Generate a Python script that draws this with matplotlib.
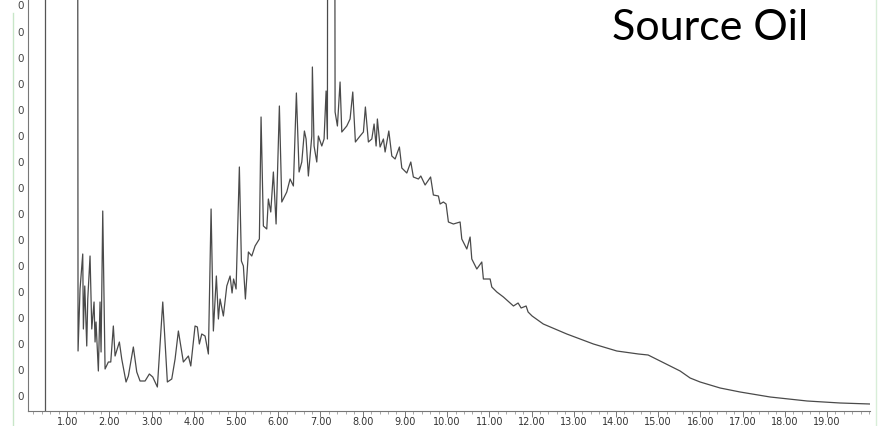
import numpy as np
import matplotlib
matplotlib.use('Agg')
import matplotlib.pyplot as plt
from matplotlib.ticker import MultipleLocator, FixedLocator


# retention time (min) and abundance
rt = [1.22, 1.256, 1.303, 1.367, 1.382, 1.415, 1.462, 1.486, 1.540, 1.581,
      1.635, 1.659, 1.682, 1.737, 1.777, 1.801, 1.841, 1.896, 1.974, 2.031,
      2.092, 2.133, 2.235, 2.291, 2.393, 2.448, 2.566, 2.647, 2.725, 2.844,
      2.945, 3.026, 3.135, 3.263, 3.372, 3.476, 3.555, 3.633, 3.751, 3.870,
      3.927, 4.028, 4.083, 4.130, 4.187, 4.265, 4.344, 4.408, 4.462, 4.533,
      4.581, 4.621, 4.699, 4.780, 4.858, 4.905, 4.941, 5.000, 5.078, 5.126,
      5.173, 5.221, 5.292, 5.372, 5.450, 5.552, 5.592, 5.647, 5.727, 5.765,
      5.822, 5.884, 5.948, 6.026, 6.083, 6.201, 6.280, 6.358, 6.429, 6.493,
      6.557, 6.619, 6.659, 6.713, 6.794, 6.808, 6.848, 6.912, 6.950, 7.031,
      7.085, 7.133, 7.164, 7.204, 7.291, 7.346, 7.401, 7.464, 7.505, 7.623,
      7.701, 7.765, 7.827, 7.938, 8.017, 8.064, 8.135, 8.216, 8.270, 8.318,
      8.348, 8.412, 8.491, 8.531, 8.619, 8.690, 8.768, 8.870, 8.927, 9.045,
      9.140, 9.201, 9.320, 9.377, 9.479, 9.609, 9.675, 9.794, 9.834, 9.912,
      9.976, 10.031, 10.149, 10.308, 10.348, 10.467, 10.545, 10.585, 10.704, 10.822,
      10.860, 11.019, 11.059, 11.178, 11.334, 11.572, 11.682, 11.754, 11.872, 11.919,
      12.014, 12.279, 12.836, 13.467, 14.021, 14.533, 14.763, 15.047, 15.521, 15.758,
      15.995, 16.469, 16.943, 17.654, 18.531, 19.313, 20.02]

abundance = [2000, 60, 122, 157, 82, 125, 65, 112, 155, 82,
             109, 69, 89, 40, 109, 59, 200, 42, 49, 49,
             85, 55, 69, 52, 29, 35, 64, 39, 30, 30,
             37, 34, 24, 109, 29, 32, 52, 80, 49, 55,
             45, 85, 84, 67, 77, 75, 57, 202, 80, 135,
             92, 112, 95, 125, 135, 118, 132, 122, 244, 150,
             145, 112, 159, 155, 165, 172, 294, 185, 182, 212,
             199, 239, 187, 305, 209, 219, 232, 225, 318, 239,
             249, 280, 272, 235, 275, 344, 265, 249, 275, 265,
             272, 320, 272, 2000, 2000, 299, 285, 329, 279, 285,
             292, 319, 269, 275, 279, 304, 269, 272, 287, 265,
             292, 264, 272, 259, 280, 255, 252, 264, 243, 238,
             249, 234, 232, 235, 226, 234, 216, 215, 207, 209,
             207, 189, 187, 189, 172, 162, 174, 152, 142, 149,
             132, 132, 124, 119, 114, 105, 108, 103, 105, 99,
             95, 87, 77, 67, 60, 57, 56, 50, 40, 33,
             29, 23, 19, 14, 10, 8, 7]

x_ticks = [1, 2, 3, 4, 5, 6, 7, 8, 9, 10, 11, 12, 13, 14, 15, 16, 17, 18, 19]
x_labels = ['%d.00' % t for t in x_ticks]
y_ticks = [15, 41, 67, 93, 119, 145, 171, 197, 223, 249, 275, 301, 327, 353, 379, 406]


def main():
    fig = plt.figure(figsize=(8.85, 4.26), dpi=100)
    ax = fig.add_axes([28 / 885, 15 / 426, 842 / 885, 411 / 426])

    ax.plot(rt, abundance, color='#4a4a4a', lw=0.9)
    ax.axvline(0.47, color='#555555', lw=0.9)

    ax.set_xlim(0.07, 20.02)
    ax.set_ylim(0, 411)

    ax.xaxis.set_major_locator(FixedLocator(x_ticks))
    ax.set_xticklabels(x_labels)
    ax.xaxis.set_minor_locator(MultipleLocator(0.2))
    ax.tick_params(axis='x', which='major', length=4, width=0.7, color='#777777',
                   labelsize=7, labelcolor='#333333', pad=0.5)
    ax.tick_params(axis='x', which='minor', length=2.5, width=0.6, color='#999999')

    ax.yaxis.set_major_locator(FixedLocator(y_ticks))
    ax.set_yticklabels(['0'] * len(y_ticks))
    ax.tick_params(axis='y', length=0, labelsize=7.5, labelcolor='#444444', pad=3)

    for s in ['top', 'right']:
        ax.spines[s].set_visible(False)
    for s in ['left', 'bottom']:
        ax.spines[s].set_color('#777777')
        ax.spines[s].set_linewidth(0.8)

    # light green frame edges from the screenshot
    fig.add_artist(plt.Line2D([13 / 885, 13 / 885], [0, 1 - 13 / 426],
                              color='#c8e6c8', lw=1))
    fig.add_artist(plt.Line2D([876 / 885, 876 / 885], [0, 1],
                              color='#d8eed8', lw=1))

    fig.text(612 / 885, 1 - 40 / 426, 'Source Oil', family='Lato',
             fontsize=31, color='black', ha='left', va='baseline')

    fig.savefig('out.png', dpi=100)


if __name__ == '__main__':
    main()
